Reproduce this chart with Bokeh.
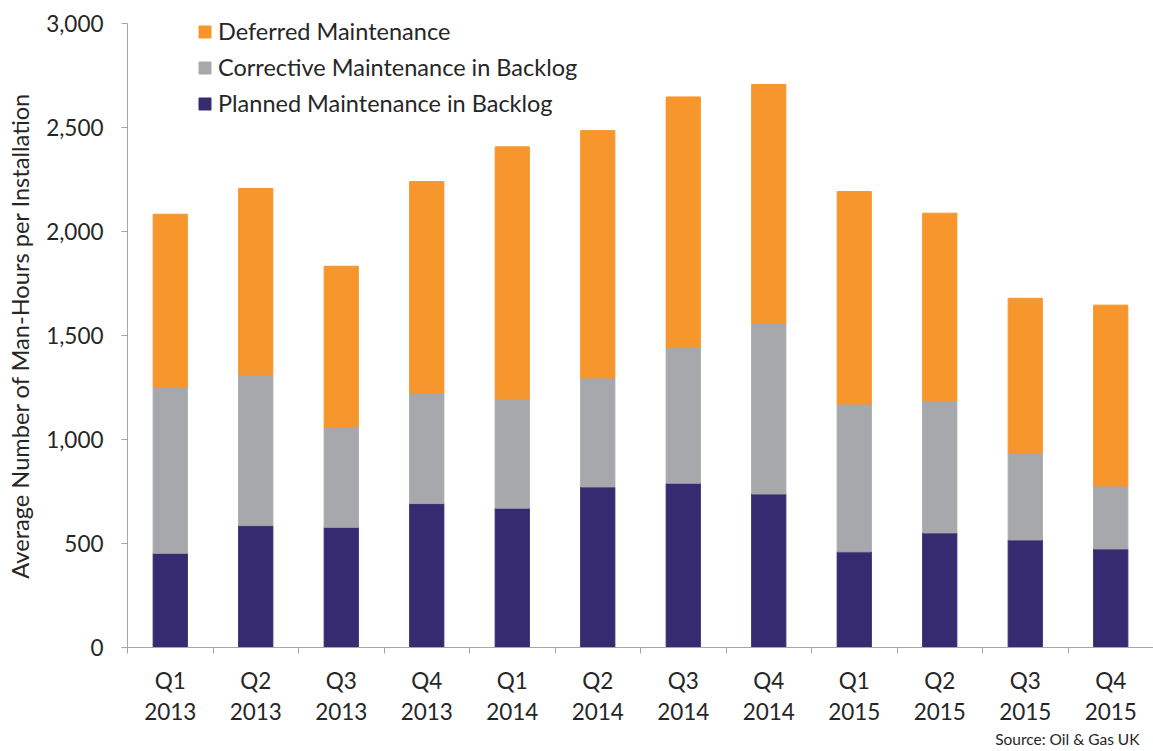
import numpy as np
from bokeh.plotting import figure
from bokeh.models import (ColumnDataSource, Range1d, FixedTicker, NumeralTickFormatter,
                          Legend, LegendItem, Title)
from bokeh.embed import file_html
from bokeh.resources import INLINE

quarters = ["Q1", "Q2", "Q3", "Q4", "Q1", "Q2", "Q3", "Q4", "Q1", "Q2", "Q3", "Q4"]
years = ["2013", "2013", "2013", "2013", "2014", "2014", "2014", "2014", "2015", "2015", "2015", "2015"]
planned = [453, 586, 578, 692, 670, 772, 790, 738, 460, 551, 517, 474]
corrective = [797, 726, 484, 532, 527, 524, 652, 820, 711, 636, 420, 303]
deferred = [833, 895, 771, 1016, 1210, 1189, 1205, 1149, 1021, 901, 742, 869]
y_ticks = [0, 500, 1000, 1500, 2000, 2500, 3000]

names = ["Planned Maintenance in Backlog", "Corrective Maintenance in Backlog", "Deferred Maintenance"]
colors = ["#362A70", "#A7A8AB", "#F7962D"]

FONT = "Lato"
TXT = "#262626"
AXC = "#A6A6A6"

n = len(quarters)
xpos = np.arange(n) + 0.5
labels = [q + "\n" + y for q, y in zip(quarters, years)]

src = ColumnDataSource(dict(x=xpos, planned=planned, corrective=corrective, deferred=deferred))

p = figure(width=1153, height=751, output_backend="svg", toolbar_location=None,
           x_range=Range1d(0, n), y_range=Range1d(0, 3000),
           min_border_left=127, min_border_right=0, min_border_top=23, min_border_bottom=104)
p.outline_line_color = None
p.grid.visible = False

rs = p.vbar_stack(["planned", "corrective", "deferred"], x="x", width=0.4, source=src,
                  color=colors, line_color=colors)

# y axis
ya = p.yaxis[0]
ya.ticker = FixedTicker(ticks=y_ticks)
ya.formatter = NumeralTickFormatter(format="0,0")
ya.axis_line_color = AXC
ya.major_tick_line_color = AXC
ya.major_tick_out = 6
ya.major_tick_in = 0
ya.minor_tick_line_color = None
ya.major_label_text_font = FONT
ya.major_label_text_font_size = "22.5px"
ya.major_label_text_color = TXT
ya.major_label_standoff = 18
ya.axis_label = "Average Number of Man-Hours per Installation"
ya.axis_label_text_font = FONT
ya.axis_label_text_font_size = "23.6px"
ya.axis_label_text_font_style = "normal"
ya.axis_label_text_color = TXT
ya.axis_label_standoff = 9

# x axis
xa = p.xaxis[0]
xa.ticker = FixedTicker(ticks=list(xpos), minor_ticks=list(np.arange(n + 1)))
xa.major_label_overrides = {float(x): l for x, l in zip(xpos, labels)}
xa.axis_line_color = AXC
xa.major_tick_line_color = None
xa.major_tick_out = 6
xa.minor_tick_line_color = AXC
xa.minor_tick_out = 6
xa.minor_tick_in = 0
xa.major_label_text_font = FONT
xa.major_label_text_font_size = "22.5px"
xa.major_label_text_color = TXT
xa.major_label_text_line_height = 1.15
xa.major_label_standoff = 13

legend = Legend(items=[LegendItem(label=names[i], renderers=[rs[i]]) for i in [2, 1, 0]],
                location=(70, 530), orientation="vertical",
                glyph_width=15, glyph_height=15, label_standoff=6,
                label_text_font=FONT, label_text_font_size="23.5px", label_text_color=TXT,
                spacing=8, padding=0, margin=0, background_fill_alpha=0,
                border_line_color=None)
p.add_layout(legend, "center")

src_title = Title(text="Source: Oil & Gas UK", align="right", text_font=FONT,
                  text_font_size="15.5px", text_font_style="normal", text_color=TXT,
                  offset=14, standoff=0)
p.add_layout(src_title, "below")

open("out.html", "w").write(file_html(p, INLINE))
